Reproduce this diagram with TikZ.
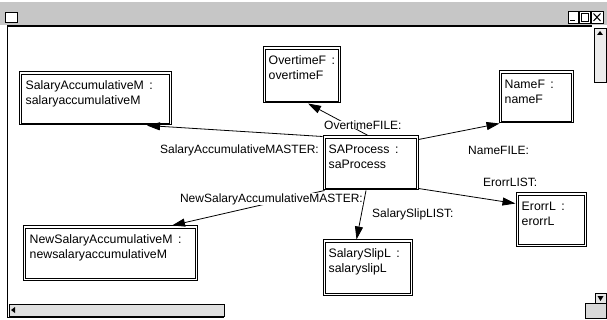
\documentclass[tikz,border=0pt]{standalone}
\usepackage{fontspec}
\setmainfont{Liberation Sans}
\usetikzlibrary{arrows.meta}
\tikzset{
  umlbox/.style={draw=black, line width=1pt, shape=rectangle, inner sep=0pt},
  innerframe/.style={draw=black, line width=0.7pt},
  boxtext/.style={anchor=north west, inner sep=0pt, align=left, font=\fontsize{12.3}{15}\selectfont},
  lbl/.style={inner sep=0pt, font=\fontsize{12}{14}\selectfont},
  conn/.style={draw=black, line width=0.8pt, -{Triangle[length=13pt,width=8pt]}},
  winline/.style={draw=black, line width=1pt},
}
\begin{document}
\begin{tikzpicture}[x=1pt,y=-1pt]
\useasboundingbox (0,0) rectangle (607,320);
\fill[white] (0,0) rectangle (607,320);
% window frame
\fill[gray!45] (0,2) rectangle (607,25);
\draw[line width=1.2pt] (7,26) -- (592,26);
\draw[fill=white, line width=0.8pt] (5,12) rectangle (17,22);
\draw[fill=white, line width=0.6pt] (568,11) rectangle (578,23);
\draw[line width=1pt] (570,21) -- (575,21);
\draw[fill=white, line width=0.6pt] (579,11) rectangle (590,23);
\draw[line width=0.8pt] (581,13.5) rectangle (588,21);
\draw[fill=white, line width=0.6pt] (591,11) rectangle (603,23);
\draw[line width=1pt] (593.5,13.5) -- (600.5,21) (593.5,21) -- (600.5,13.5);
\draw[winline] (7,26) -- (7,317);
\draw[fill=gray!15, line width=0.6pt] (594,28) rectangle (606,82);
\fill (600,31) -- (597,35) -- (603,35) -- cycle;
\draw[fill=gray!25, line width=0.6pt] (9,304) rectangle (224,316);
\fill (11,310) -- (15,307) -- (15,313) -- cycle;
\draw[line width=0.8pt] (7,317) -- (224,317);
\draw[fill=gray!20, line width=0.6pt] (595,293) rectangle (606,303);
\fill (600.5,301) -- (597.5,296) -- (603.5,296) -- cycle;
\draw[fill=gray!30, line width=0.6pt] (585,303) rectangle (606,318);

% boxes
\node[umlbox, minimum width=152pt, minimum height=53pt] (sam) at (95,98.5) {};
\node[boxtext] (samt) at ([shift={(7pt,-9pt)}]sam.north west) {SalaryAccumulativeM \,:\\salaryaccumulativeM};
\node[umlbox, minimum width=77pt, minimum height=56pt] (ovt) at (301.5,75) {};
\node[boxtext] (ovtt) at ([shift={(6pt,-9pt)}]ovt.north west) {OvertimeF \,:\\overtimeF};
\node[umlbox, minimum width=74pt, minimum height=52pt] (name) at (536,97) {};
\node[boxtext] (namet) at ([shift={(6pt,-9pt)}]name.north west) {NameF \,:\\nameF};
\node[umlbox, minimum width=95pt, minimum height=54pt] (sa) at (370.5,163) {};
\node[boxtext] (sat) at ([shift={(6pt,-9pt)}]sa.north west) {SAProcess \,:\\saProcess};
\node[umlbox, minimum width=70pt, minimum height=53pt] (err) at (551,219.5) {};
\node[boxtext] (errt) at ([shift={(6pt,-9pt)}]err.north west) {ErorrL \,:\\erorrL};
\node[umlbox, minimum width=174pt, minimum height=54pt] (nsam) at (110,253) {};
\node[boxtext] (nsamt) at ([shift={(7pt,-9pt)}]nsam.north west) {NewSalaryAccumulativeM \,:\\newsalaryaccumulativeM};
\node[umlbox, minimum width=89pt, minimum height=55pt] (ssl) at (367.5,267.5) {};
\node[boxtext] (sslt) at ([shift={(6pt,-9pt)}]ssl.north west) {SalarySlipL \,:\\salaryslipL};
\foreach \n in {sam,ovt,name,sa,err,nsam,ssl}
  \draw[innerframe] ([shift={(2.5pt,-2.5pt)}]\n.north west) rectangle ([shift={(-2.5pt,2.5pt)}]\n.south east);

% connectors
\draw[conn] ([xshift=-2.5pt]sa.north) -- ([xshift=6.5pt]ovt.south);
\draw[conn] ([yshift=-1pt]sa.north west) -- ([xshift=52pt]sam.south);
\draw[conn] ([yshift=-4pt]sa.north east) -- ([xshift=1pt]name.south west);
\draw[conn] ([yshift=2pt]sa.south east) -- ([yshift=-11pt]err.north west);
\draw[conn] ([xshift=2pt]sa.south west) -- ([xshift=62pt]nsam.north);
\draw[conn] ([xshift=-4.5pt]sa.south) -- ([xshift=-11pt]ssl.north);

% labels
\node[lbl, anchor=west, fill=white] (lovt) at (324,125) {OvertimeFILE:};
\node[lbl, anchor=east] (lsam) at (319,150) {SalaryAccumulativeMASTER:};
\node[lbl, anchor=west] (lname) at (468,150) {NameFILE:};
\node[lbl, anchor=west] (lerr) at (483,182) {ErorrLIST:};
\node[lbl, anchor=east, fill=white] (lnsam) at (363,199) {NewSalaryAccumulativeMASTER:};
\node[lbl, anchor=west] (lssl) at (372,214) {SalarySlipLIST:};
\end{tikzpicture}
\end{document}
